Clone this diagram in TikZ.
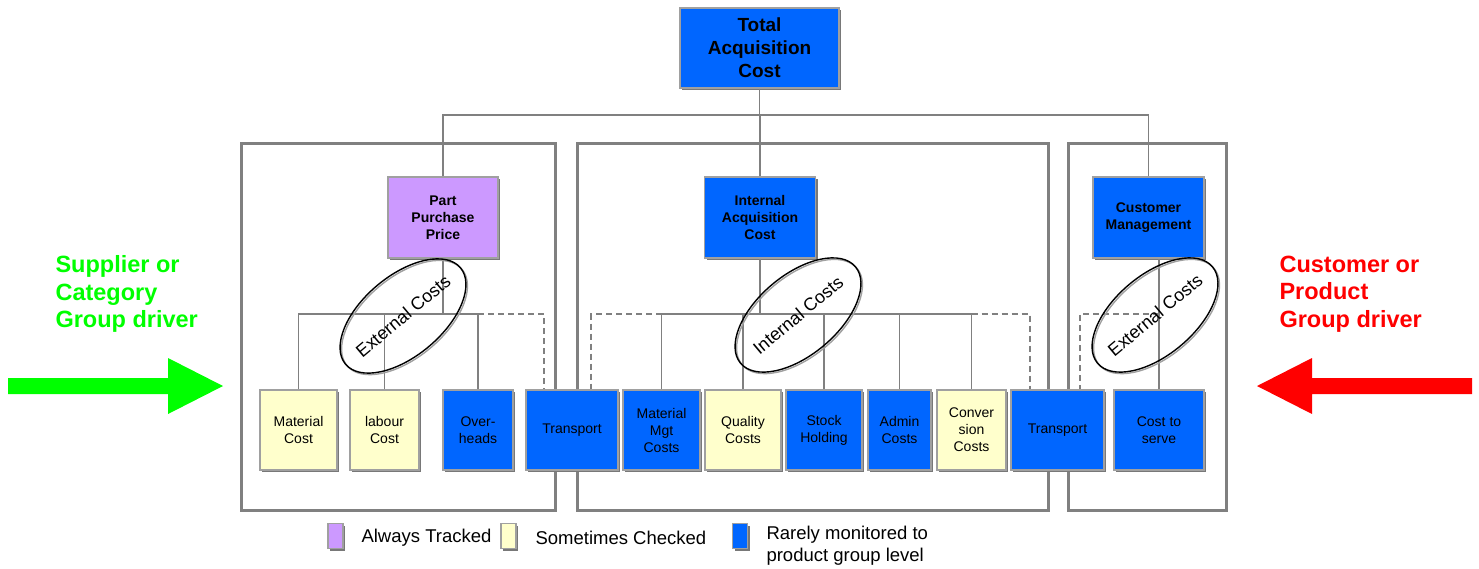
\documentclass[tikz,border=0pt]{standalone}
\usepackage{fontspec}
\setmainfont{Liberation Sans}
\usetikzlibrary{shapes.geometric,shadows}
\definecolor{bluef}{RGB}{0,102,255}
\definecolor{yelf}{RGB}{255,255,204}
\definecolor{purf}{RGB}{204,153,255}
\definecolor{edgec}{RGB}{160,160,160}
\definecolor{shad}{RGB}{120,120,120}
\definecolor{grp}{RGB}{128,128,128}
\definecolor{drvgreen}{RGB}{0,255,0}
\definecolor{drvred}{RGB}{255,0,0}
\begin{document}
\begin{tikzpicture}[x=1pt,y=-1pt,
 cbox/.style={draw=edgec,line width=1.2pt,inner sep=1pt,align=center,minimum height=80pt,
   drop shadow={shadow xshift=2pt,shadow yshift=-2pt,fill=shad,opacity=1}},
 bluebox/.style={cbox,fill=bluef},
 yelbox/.style={cbox,fill=yelf},
 purbox/.style={cbox,fill=purf},
 headtxt/.style={font=\fontsize{14}{17}\selectfont\bfseries},
 leaf/.style={font=\fontsize{14}{17}\selectfont},
 grpbox/.style={draw=grp,line width=3pt},
 conn/.style={draw=grp,line width=1.3pt},
 dconn/.style={draw=grp,line width=2pt,dash pattern=on 6pt off 4pt},
 costell/.style={ellipse,draw=black,line width=1.4pt,minimum width=150pt,minimum height=80pt,rotate=40,inner xsep=-8pt,inner ysep=0pt,font=\fontsize{18}{20}\selectfont},
 ellshadow/.style={draw=shad!70,line width=1.4pt},
 driver/.style={anchor=west,align=left,font=\fontsize{23.5}{27.5}\selectfont\bfseries},
 legbox/.style={cbox,minimum width=15pt,minimum height=25pt,inner sep=0pt},
 legtext/.style={anchor=west,align=left,font=\fontsize{18.5}{22}\selectfont}
]
\useasboundingbox (0,0) rectangle (1479,568);

% group frames
\draw[grpbox] (241,143) rectangle (555,510);
\draw[grpbox] (577,143) rectangle (1048,510);
\draw[grpbox] (1068,143) rectangle (1226,510);

% top level
\node[bluebox,font=\fontsize{19}{23}\selectfont\bfseries,minimum width=159pt] (tac) at (759.5,48) {Total\\Acquisition\\Cost};
\node[purbox,headtxt,minimum width=110pt,minimum height=81pt] (ppp) at (443,217.5) {Part\\Purchase\\Price};
\node[bluebox,headtxt,minimum width=111pt,minimum height=81pt] (iac) at (760,217.5) {Internal\\Acquisition\\Cost};
\node[bluebox,headtxt,minimum width=111pt,minimum height=81pt] (cm) at (1148.5,217.5) {Customer\\Management};

% leaves
\node[yelbox,leaf,minimum width=77pt] (mc) at (298.5,430) {Material\\Cost};
\node[yelbox,leaf,minimum width=69pt] (lc) at (384.5,430) {labour\\Cost};
\node[bluebox,leaf,minimum width=70pt] (oh) at (478,430) {Over-\\heads};
\node[bluebox,leaf,minimum width=92pt] (tr1) at (572,430) {Transport};
\node[bluebox,leaf,minimum width=77pt] (mm) at (661.5,430) {Material\\Mgt\\Costs};
\node[yelbox,leaf,minimum width=76pt] (qc) at (743,430) {Quality\\Costs};
\node[bluebox,leaf,minimum width=76pt] (sh) at (824,430) {Stock\\Holding};
\node[bluebox,leaf,minimum width=63pt] (ac) at (899.5,430) {Admin\\Costs};
\node[yelbox,leaf,minimum width=69pt] (cv) at (971.5,430) {Conver\\sion\\Costs};
\node[bluebox,leaf,minimum width=93pt] (tr2) at (1057.5,430) {Transport};
\node[bluebox,leaf,minimum width=90pt] (cs) at (1159,430) {Cost to\\serve};

% connectors top
\coordinate (hb) at (0,115);
\draw[conn] (tac.south) -- (tac.south |- hb);
\draw[conn] (ppp.north) -- (ppp.north |- hb) -- (cm.north |- hb) -- (cm.north);
\draw[conn] (iac.north) -- (iac.north |- hb);

% connectors lower
\coordinate (lbar) at (0,314);
\draw[conn] (ppp.south) -- (ppp.south |- lbar);
\draw[conn] (mc.north) -- (mc.north |- lbar) -- (oh.north |- lbar) -- (oh.north);
\draw[conn] (lc.north) -- (lc.north |- lbar);
\draw[dconn] (oh.north |- lbar) -| ([xshift=-28pt]tr1.north);

\draw[conn] (iac.south) -- (iac.south |- lbar);
\draw[conn] (mm.north) -- (mm.north |- lbar) -- (cv.north |- lbar) -- (cv.north);
\draw[conn] (qc.north) -- (qc.north |- lbar);
\draw[conn] (sh.north) -- (sh.north |- lbar);
\draw[conn] (ac.north) -- (ac.north |- lbar);
\draw[dconn] (mm.north |- lbar) -| ([xshift=19pt]tr1.north);
\draw[dconn] (cv.north |- lbar) -| ([xshift=-27.5pt]tr2.north);

\draw[dconn] (cs.north |- lbar) -| ([xshift=22.5pt]tr2.north);
\draw[conn] (cs.north) -- (cs.north |- cm.south);

% cost ellipses (soft shadow, then outline with label)
\draw[ellshadow,rotate around={40:(404.5,317.5)}] (404.5,317.5) ellipse [x radius=75, y radius=40];
\draw[ellshadow,rotate around={40:(799.5,316.5)}] (799.5,316.5) ellipse [x radius=75, y radius=40];
\draw[ellshadow,rotate around={40:(1156.5,316.5)}] (1156.5,316.5) ellipse [x radius=75, y radius=40];
\node[costell] (e1) at (403,316) {External Costs};
\node[costell] (e2) at (798,315) {Internal Costs};
\node[costell] (e3) at (1155,315) {External Costs};

% drivers
\node[driver,text=drvgreen] (sup) at (52,294) {Supplier or\\Category\\Group driver};
\node[driver,text=drvred] (cus) at (1276,294) {Customer or\\Product\\Group driver};
\fill[drvgreen] (8,378) -- (168,378) -- (168,358) -- (223,386) -- (168,414) -- (168,394) -- (8,394) -- cycle;
\fill[drvred] (1472,378) -- (1312,378) -- (1312,358) -- (1257,386) -- (1312,414) -- (1312,394) -- (1472,394) -- cycle;

% legend
\node[legbox,fill=purf] (lgp) at (335.5,536) {};
\node[legtext] (lgpt) at (358,538) {Always Tracked};
\node[legbox,fill=yelf] (lgy) at (508.5,536) {};
\node[legtext] (lgyt) at (532,538) {Sometimes Checked};
\node[legbox,fill=bluef] (lgb) at (740,536) {};
\node[legtext] (lgbt) at (763,546) {Rarely monitored to\\product group level};
\end{tikzpicture}
\end{document}
